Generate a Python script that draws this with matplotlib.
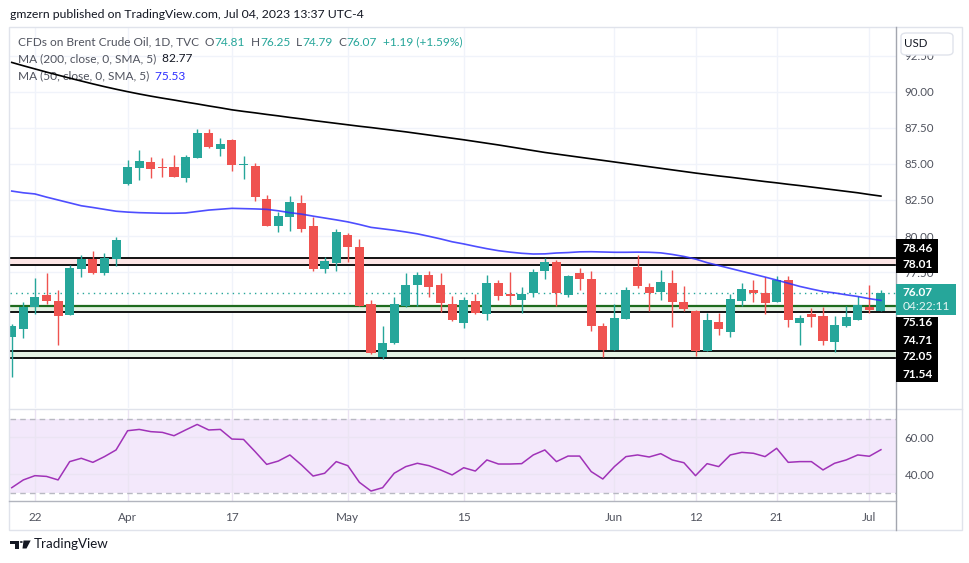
import numpy as np
import pandas as pd
import matplotlib.pyplot as plt
from matplotlib.patches import Rectangle, FancyBboxPatch, Polygon, Circle
from matplotlib.lines import Line2D

plt.rcParams['font.family'] = ['Lato', 'DejaVu Sans']

# Dati (Brent CFD, 1D)
dates = pd.bdate_range('2023-03-20', '2023-07-04').drop(pd.Timestamp('2023-04-07'))

opens = [73.00, 73.56, 75.09, 75.90, 75.49, 74.53, 77.73, 78.40, 77.45, 78.42,
         83.63, 84.74, 85.14, 84.79, 84.79, 84.05, 85.44, 87.15, 86.06, 86.67,
         84.95, 84.86, 82.57, 80.72, 81.34, 82.29, 80.69, 77.73, 78.15, 80.07,
         79.24, 75.28, 71.62, 72.59, 75.16, 76.60, 77.29, 76.60, 75.28, 73.98,
         75.49, 74.60, 76.74, 75.97, 75.56, 76.06, 77.57, 78.19, 75.92, 77.43,
         77.01, 73.75, 72.10, 74.26, 77.85, 76.46, 76.11, 76.74, 75.42, 74.79,
         72.03, 74.03, 73.35, 75.51, 76.25, 76.04, 75.44, 76.94, 73.98, 74.58,
         74.44, 72.66, 73.77, 74.19, 75.07, 74.81]
highs = [73.90, 75.42, 77.08, 77.43, 76.25, 78.00, 78.68, 78.96, 78.82, 79.93,
         85.28, 85.97, 85.49, 85.42, 85.63, 85.63, 87.43, 87.43, 86.81, 86.70,
         85.56, 85.07, 82.83, 81.69, 82.78, 82.85, 81.32, 78.54, 80.49, 80.21,
         79.79, 75.56, 73.75, 75.76, 77.43, 77.50, 77.57, 77.43, 75.83, 75.78,
         75.97, 77.29, 76.94, 77.50, 76.46, 77.71, 78.47, 78.33, 77.31, 77.78,
         77.57, 73.96, 75.26, 76.46, 78.68, 76.74, 77.64, 77.64, 76.53, 74.86,
         74.65, 74.67, 75.97, 76.74, 76.94, 77.15, 77.22, 77.22, 74.49, 75.00,
         75.07, 74.44, 75.14, 75.83, 76.60, 76.25]
lows = [70.23, 72.94, 74.60, 75.26, 72.45, 74.50, 77.17, 77.36, 77.31, 77.94,
        83.56, 83.89, 84.05, 84.12, 84.10, 83.77, 85.42, 86.13, 85.58, 84.53,
        83.98, 82.45, 80.70, 80.28, 80.37, 80.30, 77.59, 77.45, 77.59, 78.22,
        75.16, 71.83, 71.48, 72.52, 75.09, 75.14, 75.78, 74.74, 74.12, 73.63,
        74.60, 74.19, 75.58, 75.23, 74.67, 75.78, 77.03, 75.16, 75.78, 76.27,
        73.42, 71.62, 72.10, 74.26, 76.41, 74.81, 75.58, 73.70, 74.81, 71.69,
        72.03, 73.15, 73.00, 75.16, 75.44, 74.60, 75.44, 73.70, 72.45, 73.70,
        72.45, 71.97, 73.70, 74.19, 74.67, 74.79]
closes = [73.75, 75.07, 75.76, 75.51, 74.47, 77.78, 78.40, 77.45, 78.47, 79.72,
          84.79, 85.21, 84.67, 84.70, 84.12, 85.49, 87.15, 86.20, 86.39, 84.95,
          85.00, 82.73, 80.72, 81.39, 82.36, 80.51, 77.73, 78.26, 80.28, 79.26,
          75.16, 71.90, 72.57, 75.28, 76.60, 77.29, 76.48, 75.37, 74.19, 75.56,
          74.67, 76.74, 75.85, 75.85, 75.97, 77.50, 78.19, 76.06, 77.22, 77.01,
          73.77, 72.10, 74.31, 76.25, 76.55, 76.06, 76.81, 75.44, 74.95, 72.03,
          74.17, 73.56, 75.63, 76.32, 76.06, 75.37, 76.94, 74.19, 74.33, 74.40,
          72.73, 73.82, 74.38, 75.21, 74.88, 76.07]

ma200 = [92.05, 91.82, 91.60, 91.38, 91.17, 90.96, 90.76, 90.56, 90.37, 90.19,
         90.02, 89.86, 89.71, 89.57, 89.44, 89.30, 89.17, 89.03, 88.90, 88.76,
         88.65, 88.55, 88.44, 88.34, 88.23, 88.13, 88.02, 87.92, 87.82, 87.72,
         87.62, 87.53, 87.43, 87.33, 87.23, 87.12, 87.01, 86.90, 86.79, 86.68,
         86.56, 86.44, 86.32, 86.19, 86.06, 85.93, 85.80, 85.69, 85.58, 85.47,
         85.36, 85.25, 85.14, 85.03, 84.92, 84.81, 84.70, 84.59, 84.48, 84.37,
         84.27, 84.17, 84.08, 83.98, 83.88, 83.78, 83.69, 83.59, 83.50, 83.40,
         83.30, 83.20, 83.10, 83.00, 82.88, 82.77]
ma50 = [83.12, 83.00, 82.92, 82.70, 82.50, 82.30, 82.10, 81.98, 81.85, 81.72,
        81.66, 81.62, 81.60, 81.58, 81.58, 81.60, 81.70, 81.80, 81.86, 81.92,
        81.90, 81.88, 81.85, 81.75, 81.62, 81.52, 81.38, 81.25, 81.12, 80.98,
        80.80, 80.60, 80.50, 80.40, 80.28, 80.15, 79.98, 79.80, 79.60, 79.45,
        79.28, 79.12, 78.98, 78.88, 78.80, 78.75, 78.76, 78.82, 78.85, 78.90,
        78.91, 78.89, 78.87, 78.87, 78.88, 78.87, 78.83, 78.72, 78.58, 78.40,
        78.15, 77.95, 77.75, 77.55, 77.35, 77.15, 76.94, 76.72, 76.50, 76.32,
        76.15, 76.05, 75.92, 75.80, 75.65, 75.53]
rsi = [32.6, 36.8, 39.1, 38.7, 36.8, 46.7, 48.5, 46.3, 49.4, 53.0,
       63.4, 64.1, 62.9, 62.5, 60.7, 63.8, 66.8, 63.8, 64.1, 58.9,
       58.7, 52.1, 45.2, 47.0, 50.3, 44.9, 38.9, 40.4, 46.7, 44.5,
       35.5, 30.8, 32.6, 40.4, 44.0, 45.8, 44.5, 42.2, 39.5, 43.4,
       41.6, 47.6, 45.4, 45.4, 45.6, 50.3, 53.0, 46.7, 49.7, 49.7,
       41.3, 37.3, 44.0, 49.4, 50.3, 49.2, 51.0, 47.6, 46.1, 39.1,
       45.6, 44.0, 50.3, 51.7, 51.2, 49.4, 53.9, 46.3, 46.7, 46.7,
       42.2, 45.8, 47.6, 50.3, 49.6, 53.14]

# livelli orizzontali disegnati
red_zone = (78.01, 78.46)
green_zone_hi = (74.71, 75.16)
green_zone_lo = (71.54, 72.05)
last_price = 76.07

tick_dates = ['2023-03-22', '2023-04-03', '2023-04-17', '2023-05-01', '2023-05-15',
              '2023-06-01', '2023-06-12', '2023-06-21', '2023-07-03']
tick_labels = ['22', 'Apr', '17', 'May', '15', 'Jun', '12', '21', 'Jul']
price_ticks = [77.5, 80.0, 82.5, 85.0, 87.5, 90.0, 92.5]

TEAL = '#26a69a'
RED = '#ef5350'
GRAY = '#50535e'
GRID = '#f0f3fa'

W, H = 970, 563
fig = plt.figure(figsize=(W / 100, H / 100), dpi=100)


def fx(px):
    return px / W


def fy(py):
    return 1 - py / H


ax = fig.add_axes([fx(10), fy(408), (896 - 10) / W, (408 - 28) / H])
rx = fig.add_axes([fx(10), fy(500.7), (896 - 10) / W, (500.7 - 409) / H], sharex=ax)

x = np.arange(len(dates))
o = np.array(opens)
c = np.array(closes)
cols = np.where(c >= o, TEAL, RED)

# zone e linee
ax.axhspan(*red_zone, color='#fde6e6', zorder=1, lw=0)
ax.axhspan(*green_zone_hi, color='#e4f2e4', zorder=1, lw=0)
ax.axhspan(*green_zone_lo, color='#e4f2e4', zorder=1, lw=0)
for lvl in [red_zone[0], red_zone[1], green_zone_hi[0], green_zone_lo[0], green_zone_lo[1]]:
    ax.axhline(lvl, color='black', lw=1.3, zorder=2)
ax.axhline(green_zone_hi[1], color='#1e6b1e', lw=1.6, zorder=2)
ax.axhline(last_price, color=TEAL, lw=1, ls=(0, (1, 3)), zorder=2)

# candele
ax.vlines(x, lows, highs, color=cols, lw=1, zorder=3)
body_lo = np.minimum(o, c)
body_h = np.maximum(np.abs(c - o), 0.05)
ax.bar(x, body_h, bottom=body_lo, width=0.78, color=cols, lw=0, zorder=4)

ax.plot(x, ma200, color='black', lw=1.2, zorder=5)
ax.plot(x, ma50, color='#2f2fff', lw=1.2, alpha=0.85, zorder=5)

ax.set_xlim(-0.15, 76.3)
ax.set_ylim(68.06, 94.44)
ax.set_yticks(price_ticks)
ax.set_yticklabels([f'{v:.2f}' for v in price_ticks])
ax.yaxis.tick_right()
ax.tick_params(axis='y', length=0, pad=6, labelsize=8.3, labelcolor=GRAY)
ax.tick_params(axis='x', length=0, labelbottom=False)

tick_pos = [dates.get_loc(pd.Timestamp(d)) for d in tick_dates]
ax.set_xticks(tick_pos)
ax.grid(color=GRID, lw=1)
ax.set_axisbelow(True)
for s in ax.spines.values():
    s.set_visible(False)

# RSI
rx.axhspan(30, 70, color='#f3e8fb', lw=0, zorder=0)
rx.axhline(70, color='#b8b9c2', lw=1, ls=(0, (4, 3)), zorder=1)
rx.axhline(30, color='#b8b9c2', lw=1, ls=(0, (4, 3)), zorder=1)
rx.plot(x, rsi, color='#a032b8', lw=1.1, zorder=3)
rx.set_ylim(25.57, 75.14)
rx.set_yticks([40, 60])
rx.set_yticklabels(['40.00', '60.00'])
rx.yaxis.tick_right()
rx.tick_params(axis='y', length=0, pad=6, labelsize=8.3, labelcolor=GRAY)
rx.set_xticks(tick_pos)
rx.set_xticklabels(tick_labels)
rx.tick_params(axis='x', length=0, pad=8, labelsize=8.5, labelcolor=GRAY)
rx.grid(color='#ebe4f3', lw=1)
rx.set_axisbelow(True)
for s in rx.spines.values():
    s.set_visible(False)

# cornice e separatori
fig.add_artist(Rectangle((fx(9), fy(530)), (962 - 9) / W, (530 - 27) / H,
                         transform=fig.transFigure, fill=False, ec='#e0e3eb', lw=1))
fig.add_artist(Line2D([fx(9), fx(962)], [fy(409), fy(409)], color='#e0e3eb', lw=1))
fig.add_artist(Line2D([fx(9), fx(896)], [fy(500.7), fy(500.7)], color='#b2b5be', lw=1))
fig.add_artist(Line2D([fx(896), fx(896)], [fy(27), fy(530)], color='#a3a6af', lw=1))

# box USD
fig.add_artist(FancyBboxPatch((fx(901), fy(55)), (953 - 901) / W, (55 - 33) / H,
                              boxstyle='round,pad=0,rounding_size=0.006',
                              transform=fig.transFigure, fc='white', ec='#e0e3eb', lw=1, zorder=5))
fig.text(fx(904), fy(43.5), 'USD', color='#131722', fontsize=8.3, va='center', zorder=6)

# etichette prezzo sull'asse
fig.add_artist(Rectangle((fx(896), fy(273)), 42 / W, 34 / H, transform=fig.transFigure,
                         fc='black', ec='none', zorder=5))
fig.add_artist(Rectangle((fx(896), fy(315)), 60 / W, 31 / H, transform=fig.transFigure,
                         fc=TEAL, ec='none', zorder=5))
fig.add_artist(Rectangle((fx(896), fy(382)), 42 / W, 65 / H, transform=fig.transFigure,
                         fc='black', ec='none', zorder=5))
for txt, py in [('78.46', 248), ('78.01', 264), ('75.16', 323), ('74.71', 340),
                ('72.05', 357), ('71.54', 374)]:
    fig.text(fx(903), fy(py), txt, color='white', fontsize=8.6, fontweight='bold',
             va='center', zorder=6)
fig.text(fx(903), fy(293), f'{last_price:.2f}', color='white', fontsize=8.6,
         fontweight='bold', va='center', zorder=6)
fig.text(fx(903), fy(307), '04:22:11', color='#e8f6f4', fontsize=8.6, va='center', zorder=6)


# testi legenda
def chain(x0, y0, parts, size):
    prev = None
    for s, col in parts:
        if prev is None:
            prev = ax.annotate(s, (x0, H - y0), xycoords='figure pixels', va='center',
                               ha='left', color=col, fontsize=size, annotation_clip=False)
        else:
            prev = ax.annotate(s, (1, 0.5), xycoords=prev, va='center', ha='left',
                               color=col, fontsize=size, annotation_clip=False)


chain(10, 14, [('gmzern published on TradingView.com, Jul 04, 2023 13:37 UTC-4', '#131722')], 8.8)
chain(18, 42, [('CFDs on Brent Crude Oil, 1D, TVC', GRAY), ('  O', GRAY), ('74.81', TEAL),
               ('  H', GRAY), ('76.25', TEAL), ('  L', GRAY), ('74.79', TEAL),
               ('  C', GRAY), ('76.07', TEAL), ('  +1.19 (+1.59%)', TEAL)], 8.6)
chain(18, 59, [('MA (200, close, 0, SMA, 5)', GRAY), ('  82.77', '#131722')], 8.6)
chain(18, 76, [('MA (50, close, 0, SMA, 5)', GRAY), ('  75.53', '#2f2fff')], 8.6)
chain(18, 424, [('RSI (14, close)', GRAY), ('  53.14', '#a032b8')], 8.6)

# logo TradingView
logo_c = '#131722'
fig.add_artist(Polygon([(fx(10.5), fy(540.5)), (fx(18.5), fy(540.5)), (fx(18.5), fy(548.5)),
                        (fx(15), fy(548.5)), (fx(15), fy(543.5)), (fx(10.5), fy(543.5))],
                       closed=True, transform=fig.transFigure, fc=logo_c, ec='none'))
fig.add_artist(Circle((fx(21.3), fy(542)), 1.5 / W, transform=fig.transFigure, fc=logo_c, ec='none'))
fig.add_artist(Polygon([(fx(23.5), fy(540.5)), (fx(30.7), fy(540.5)), (fx(26.5), fy(548.5)),
                        (fx(22.5), fy(548.5))], closed=True, transform=fig.transFigure,
                       fc=logo_c, ec='none'))
fig.text(fx(33.5), fy(544.5), 'TradingView', color=logo_c, fontsize=9.6, va='center')

fig.savefig('out.png', dpi=100)
